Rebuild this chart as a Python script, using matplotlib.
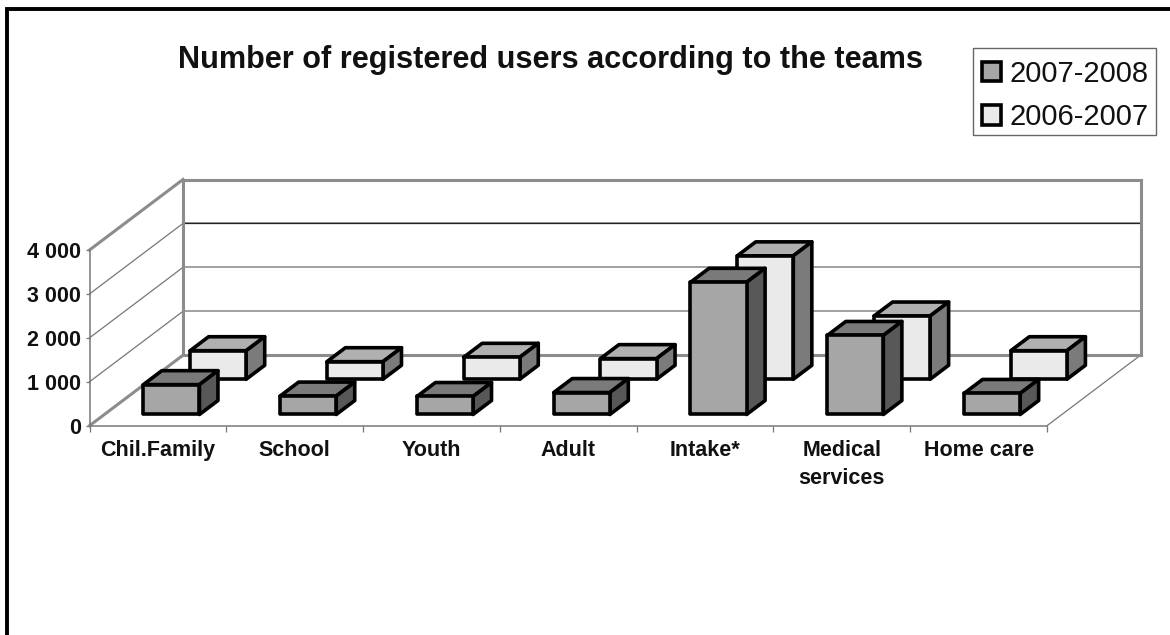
import matplotlib
matplotlib.use('Agg')
import matplotlib.pyplot as plt
from matplotlib.lines import Line2D
from matplotlib.patches import Patch, Rectangle

teams = ['Chil.Family', 'School', 'Youth', 'Adult', 'Intake*', 'Medical\nservices', 'Home care']
users_2007_2008 = [680, 420, 410, 500, 3010, 1800, 480]
users_2006_2007 = [650, 400, 500, 470, 2810, 1440, 650]
value_ticks = [0, 1000, 2000, 3000, 4000]
value_tick_labels = ['0', '1 000', '2 000', '3 000', '4 000']

W, H = 1170, 635

plt.rcParams['font.family'] = ['Liberation Sans', 'DejaVu Sans']

fig = plt.figure(figsize=(W / 100, H / 100), dpi=100)

# axes sit on the front plane of the 3D box
left, right, bottom, top = 89.5, 1047, 425.7, 250
ax = fig.add_axes([left / W, 1 - bottom / H, (right - left) / W, (bottom - top) / H])
ax.set_xlim(0, 7)
ax.set_ylim(0, 4000)
ax.patch.set_visible(False)

# how far the full floor depth shifts a point, in data units
depth_x = 93.5 / ((right - left) / 7)
depth_y = 70.5 / ((bottom - top) / 4000)


def project(x, v, d):
    return x + d * depth_x, v + d * depth_y


def line3d(p, q, **kw):
    a = project(*p)
    b = project(*q)
    ax.plot([a[0], b[0]], [a[1], b[1]], clip_on=False, solid_capstyle='projecting', **kw)


# walls and floor
wall = dict(color='#8c8c8c', lw=2.2, zorder=2)
thin = dict(color='#777777', lw=0.9, zorder=1)
for v in value_ticks[1:-1]:
    line3d((0, v, 0), (0, v, 1), **thin)
    line3d((0, v, 1), (7, v, 1), color='#909090', lw=1.2, zorder=1)
line3d((0, 3000, 1), (7, 3000, 1), color='#222222', lw=0.9, zorder=1)
line3d((0, 4000, 0), (0, 4000, 1), **wall)
line3d((0, 4000, 1), (7, 4000, 1), **wall)
line3d((0, 0, 1), (0, 4000, 1), **wall)
line3d((7, 0, 1), (7, 4000, 1), **wall)
line3d((0, 0, 1), (7, 0, 1), **wall)
line3d((0, 0, 0), (0, 0, 1), **wall)
line3d((7, 0, 0), (7, 0, 1), **thin)


def box(i, value, d0, d1, front, top_c, side):
    x0, x1 = i + 0.285, i + 0.695
    outline = dict(edgecolor='black', linewidth=2.6, joinstyle='round', clip_on=False, zorder=5 - d0)
    pts = [(x0, value, d0), (x1, value, d0), (x1, value, d1), (x0, value, d1)]
    xs, ys = zip(*[project(*p) for p in pts])
    ax.fill(xs, ys, facecolor=top_c, **outline)
    pts = [(x1, 0, d0), (x1, 0, d1), (x1, value, d1), (x1, value, d0)]
    xs, ys = zip(*[project(*p) for p in pts])
    ax.fill(xs, ys, facecolor=side, **outline)
    pts = [(x0, 0, d0), (x1, 0, d0), (x1, value, d0), (x0, value, d0)]
    xs, ys = zip(*[project(*p) for p in pts])
    ax.fill(xs, ys, facecolor=front, **outline)


for i, v in enumerate(users_2006_2007):
    box(i, v, 0.659, 0.857, '#eaeaea', '#b0b0b0', '#7b7b7b')
for i, v in enumerate(users_2007_2008):
    box(i, v, 0.159, 0.357, '#a6a6a6', '#7a7a7a', '#585858')

# front axes
for name in ['top', 'right']:
    ax.spines[name].set_visible(False)
ax.spines['left'].set_color('#777777')
ax.spines['bottom'].set_color('#777777')
ax.spines['left'].set_linewidth(1.1)
ax.spines['bottom'].set_linewidth(1.1)
ax.set_yticks(value_ticks, value_tick_labels, fontsize=15.5, fontweight='bold', color='#111111')
ax.set_xticks(range(8), [''] * 8)
ax.tick_params(axis='y', length=3, width=0.9, color='#777777', pad=3)
ax.tick_params(axis='x', length=4, width=0.9, color='#777777', direction='out')
for i, name in enumerate(teams):
    ax.annotate(name, (i + 0.5, 0), xytext=(0, -10.5), xycoords='data', textcoords='offset points',
                ha='center', va='top', fontsize=15.5, fontweight='bold', color='#111111',
                linespacing=1.45, annotation_clip=False)

fig.text(551 / W, 1 - 60 / H, 'Number of registered users according to the teams',
         ha='center', va='center', fontsize=22.1, fontweight='bold', color='#111111')

# legend box is drawn on its own so the rows can sit lower inside it
fig.add_artist(Rectangle((973 / W, 1 - 135 / H), 183 / W, 87 / H, transform=fig.transFigure,
                         facecolor='white', edgecolor='#666666', linewidth=1.0))
handles = [Patch(facecolor='#a6a6a6', edgecolor='black', linewidth=2.6, label='2007-2008'),
           Patch(facecolor='#eaeaea', edgecolor='black', linewidth=2.6, label='2006-2007')]
leg = fig.legend(handles=handles, loc='upper left', bbox_to_anchor=(973 / W, 1 - 51 / H),
                 fontsize=21, frameon=False,
                 handlelength=0.66, handleheight=0.66, handletextpad=0.28, borderpad=0.3,
                 borderaxespad=0, labelspacing=0.53, labelcolor='#111111')
leg.set_zorder(5)

# black rule along the top and left of the chart area, open at the other sides
fig.add_artist(Line2D([7 / W, 7 / W, 1], [0, 1 - 8.5 / H, 1 - 8.5 / H], transform=fig.transFigure,
                      color='black', linewidth=2.8, solid_joinstyle='miter'))

fig.savefig('out.png', dpi=100, facecolor='white')
